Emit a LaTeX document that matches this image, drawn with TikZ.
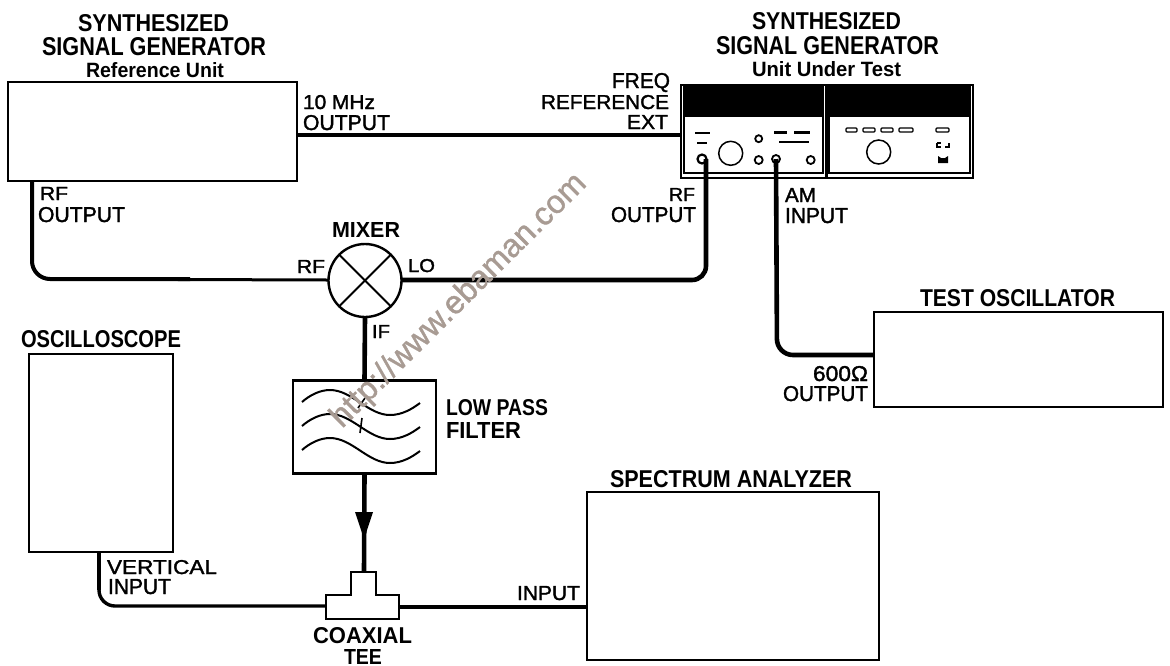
\documentclass[tikz,border=0pt]{standalone}
\usepackage{fontspec}
\setmainfont{Liberation Sans}
\newfontfamily\titlefont{Liberation Sans}
\newfontfamily\labelfont[FakeBold=1.6]{Liberation Sans}
\newfontfamily\markfont[FakeBold=1.2]{Liberation Sans}
\usetikzlibrary{arrows.meta}
\definecolor{mark}{HTML}{A89B93}
\tikzset{
  box/.style={draw,line width=2.4pt,rectangle,inner sep=0pt,outer sep=0pt,fill=white},
  wirethin/.style={line width=3pt,line join=round},
  wiremid/.style={line width=3.4pt,line join=round},
  wirethick/.style={line width=4.6pt,line join=round},
  txt/.style={inner sep=0pt,outer sep=0pt,anchor=base west,text=black},
  ctl/.style={line width=2.6pt},
  ctlthin/.style={line width=1.2pt},
}
\newcommand{\tlab}[6]{\node[txt] (#1) at (#2,#3) {\resizebox{#4pt}{#5pt}{\titlefont\bfseries #6}};}
\newcommand{\slab}[6]{\node[txt] (#1) at (#2,#3) {\resizebox{#4pt}{#5pt}{\labelfont #6}};}
\begin{document}
\begin{tikzpicture}[x=1pt,y=-1pt]
\useasboundingbox[fill=white] (0,0) rectangle (1170,665);
% boxes
\node[box,minimum width=289pt,minimum height=99pt] (ref) at (152.5,131.5) {};
\node[box,minimum width=289pt,minimum height=95pt] (osc) at (1018.5,359.5) {};
\node[box,minimum width=144pt,minimum height=198pt] (scope) at (101,453) {};
\node[box,minimum width=292pt,minimum height=168pt] (spec) at (733,576) {};
\node[box,minimum width=143pt,minimum height=93pt] (filt) at (364.5,427) {};
\node[box,minimum width=292pt,minimum height=93pt] (uut) at (827,131.5) {};
\node[draw,circle,line width=2.4pt,minimum size=73pt,inner sep=0pt,outer sep=0pt,fill=white] (mix) at (365,280.5) {};
% unit under test
\fill (684,87) rectangle (823,117);
\fill (829,87) rectangle (970,117);
\draw[line width=1.4pt] (684,87) rectangle (823,173);
\draw[line width=1.4pt] (829,87) rectangle (970,173);
\draw[line width=3pt] (826,85) -- (826,178);
\draw[ctl] (695,133) -- (710,133);
\draw[ctl] (697,143) -- (707,143);
\draw[ctl] (774,132.5) -- (787,132.5);
\draw[ctl] (794,132.5) -- (810,132.5);
\draw[ctl] (779,142) -- (809,142);
\node[draw,circle,line width=1.5pt,minimum size=24pt,inner sep=0pt] (knobA) at (730.7,153.3) {};
\node[draw,circle,line width=1.5pt,minimum size=24pt,inner sep=0pt] (knobB) at (878.7,152) {};
\node[draw,circle,line width=2.2pt,minimum size=9pt,inner sep=0pt] (rfjack) at (702,159) {};
\node[draw,circle,line width=1.8pt,minimum size=7pt,inner sep=0pt] (c1) at (758.7,138.7) {};
\node[draw,circle,line width=1.8pt,minimum size=8pt,inner sep=0pt] (c2) at (758.7,160) {};
\node[draw,circle,line width=1.8pt,minimum size=8pt,inner sep=0pt] (amjack) at (776,159) {};
\node[draw,circle,line width=1.8pt,minimum size=8pt,inner sep=0pt] (c3) at (810.7,160) {};
\foreach \a/\b in {846/857,863/875,881/893,899/913,936/949}{
  \draw[ctlthin,rounded corners=1pt,fill=white] (\a,128) rectangle (\b,132);
}
\draw[line width=1.4pt] (937,143) -- (937,147) -- (941,147);
\draw[line width=1.4pt] (949,143) -- (949,147) -- (945,147);
\draw[line width=1.4pt] (937,143) -- (941,143);
\fill (938,156) -- (941,158) -- (945,158) -- (948,156) -- (948,163) -- (938,163) -- cycle;
% mixer cross
\draw[line width=2pt] (mix.45) -- (mix.225);
\draw[line width=2pt] (mix.135) -- (mix.315);
% filter waves
\foreach \d in {0,24,48}{
  \draw[line width=2pt] (302,402+\d) .. controls (310,395+\d) and (320,390+\d) .. (330,390+\d)
     .. controls (352,390+\d) and (368,415+\d) .. (390,415+\d)
     .. controls (402,415+\d) and (412,409+\d) .. (420,403+\d);
}
\draw[line width=1.6pt] (365,398) -- (358,408);
\draw[line width=1.6pt] (362,418) -- (360,433);
% tee
\draw[line width=2.4pt,fill=white] (351,595) -- (351,572) -- (376,572) -- (376,595) -- (399,595) -- (399,619) -- (326,619) -- (326,595) -- cycle;
\coordinate (teeL) at (326,606);
\coordinate (teeR) at (399,607);
\coordinate (teeT) at (364,572);
% connectors
\coordinate (ref10) at (297,135);
\coordinate (uutext) at (681,135);
\draw[wiremid] (ref10) -- (uutext);
\coordinate (refrf) at (32,181);
\coordinate (mixL) at (328,280);
\draw[wirethin,rounded corners=18pt] (refrf) -- (32,279) -- (mixL);
\draw[line width=4pt,rounded corners=18pt] (refrf) -- (32,279) -- (190,279);
\coordinate (mixR) at (402,280);
\draw[wirethick,rounded corners=14pt] (mixR) -- (706,280) -- (706,159);
\draw[wirethick] (mix.south) -- (filt.north);
\draw[wirethick] (filt.south) -- (teeT);
\fill (355,512) -- (373,512) -- (364,539) -- cycle;
\draw[wiremid,rounded corners=16pt] (99,552) -- (99,606) -- (teeL);
\draw[line width=3.8pt] (99,552) -- (99,590);
\coordinate (specin) at (587,607);
\draw[wirethick] (teeR) -- (specin);
\coordinate (oscout) at (874,355);
\draw[wirethick,rounded corners=16pt] (amjack.center) -- (777,355) -- (oscout);
% titles
\tlab{t1}{78}{31}{151}{17}{SYNTHESIZED}
\tlab{t2}{42}{55}{224}{18}{SIGNAL GENERATOR}
\tlab{t3}{86}{77}{138}{15}{Reference Unit}
\tlab{t4}{752}{29}{149}{17}{SYNTHESIZED}
\tlab{t5}{716}{54}{223}{18}{SIGNAL GENERATOR}
\tlab{t6}{752}{76}{149}{15}{Unit Under Test}
\tlab{t7}{920}{306}{195}{17}{TEST OSCILLATOR}
\tlab{t8}{21}{347}{160}{17}{OSCILLOSCOPE}
\tlab{t9}{610}{487}{242}{17}{SPECTRUM ANALYZER}
\tlab{t10}{332}{237}{68}{15}{MIXER}
\tlab{t11}{446}{415}{102}{16}{LOW PASS}
\tlab{t12}{446}{438}{75}{16}{FILTER}
\tlab{t13}{313}{643}{99}{16}{COAXIAL}
\tlab{t14}{344}{664}{38}{15}{TEE}
% labels
\slab{a1}{303}{109}{72}{14}{10 MHz}
\slab{a2}{303}{130}{87}{15}{OUTPUT}
\slab{a3}{40}{200}{28}{13}{RF}
\slab{a4}{38}{222}{87}{15}{OUTPUT}
\slab{a5}{297}{273}{28}{13}{RF}
\slab{a6}{408}{272}{27}{13}{LO}
\slab{a7}{372}{338}{18}{13}{IF}
\slab{a8}{612}{88}{58}{15}{FREQ}
\slab{a9}{541}{109}{128}{14}{REFERENCE}
\slab{a10}{627}{129}{41}{14}{EXT}
\slab{a11}{669}{201}{26}{13}{RF}
\slab{a12}{611}{222}{85}{15}{OUTPUT}
\slab{a13}{785}{202}{31}{14}{AM}
\slab{a14}{785}{223}{63}{15}{INPUT}
\slab{a15}{813}{381}{55}{15}{600Ω}
\slab{a16}{783}{401}{85}{15}{OUTPUT}
\slab{a17}{107}{574}{110}{14}{VERTICAL}
\slab{a18}{108}{594}{63}{15}{INPUT}
\slab{a19}{517}{600}{63}{14}{INPUT}
% watermark
\node[inner sep=0pt,outer sep=0pt,rotate=44.8,text=mark] (wm) at (459,301) {\resizebox{346pt}{!}{\markfont http://www.ebaman.com}};
\end{tikzpicture}
\end{document}
